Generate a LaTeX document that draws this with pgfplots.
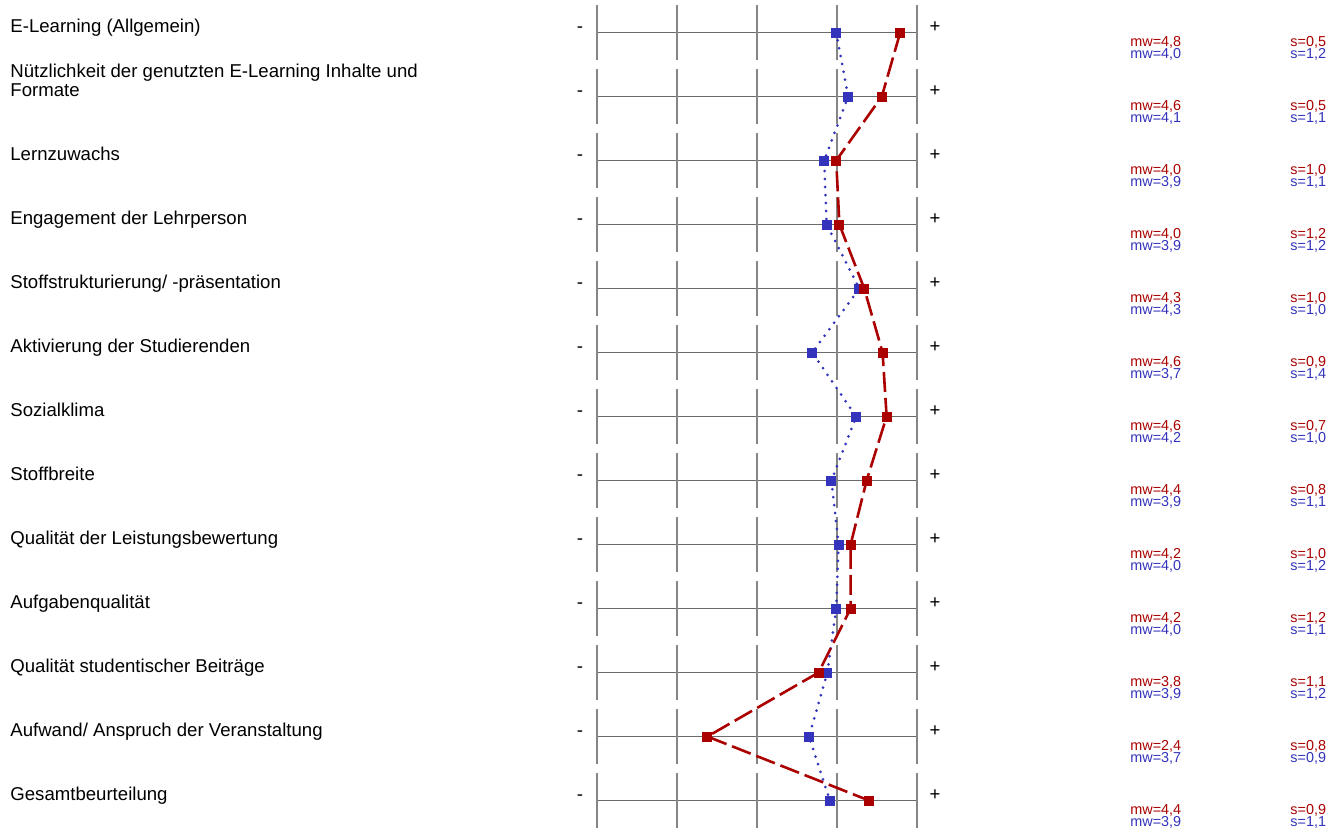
\documentclass[border=0pt]{standalone}
\usepackage{pgfplots}
\usepackage{pgfplotstable}
\pgfplotsset{compat=1.18}
\usepackage{fontspec}
\setmainfont{Liberation Sans}
\definecolor{cred}{HTML}{AA0000}
\definecolor{cblue}{HTML}{3333BB}
\definecolor{gridh}{HTML}{6A6A6A}
\definecolor{gridv}{HTML}{858585}

\pgfplotstableread{
row red blue
1 4.79 3.99
2 4.56 4.14
3 3.99 3.84
4 4.03 3.87
5 4.34 4.28
6 4.57 3.69
7 4.62 4.24
8 4.37 3.93
9 4.17 4.02
10 4.17 3.99
11 3.77 3.88
12 2.38 3.65
13 4.40 3.91
}\profile

\newcommand{\lab}[2]{\node[anchor=base west,inner sep=0pt,font=\fontsize{9.3}{9.5}\selectfont,align=left] at (axis cs:-6.3375,#1) {#2};}
\newcommand{\stats}[5]{%
 \node[anchor=base west,inner sep=0pt,font=\fontsize{7.2}{7.2}\selectfont,text=cred] at ([yshift=-6.75pt]axis cs:7.6625,#1) {mw=#2};
 \node[anchor=base west,inner sep=0pt,font=\fontsize{7.2}{7.2}\selectfont,text=cblue] at ([yshift=-12.9pt]axis cs:7.6625,#1) {mw=#3};
 \node[anchor=base west,inner sep=0pt,font=\fontsize{7.2}{7.2}\selectfont,text=cred] at ([yshift=-6.75pt]axis cs:9.6625,#1) {s=#4};
 \node[anchor=base west,inner sep=0pt,font=\fontsize{7.2}{7.2}\selectfont,text=cblue] at ([yshift=-12.9pt]axis cs:9.6625,#1) {s=#5};}

\begin{document}
\begin{tikzpicture}
\begin{axis}[
  scale only axis,
  width=669pt, height=416pt,
  xmin=-6.4625, xmax=10.2625,
  ymin=0.4921875, ymax=13.4921875,
  y dir=reverse,
  hide axis,
  clip=false,
]
\path (rel axis cs:0,0) rectangle (rel axis cs:1,1);
\pgfplotsinvokeforeach{1,...,13}{
  \draw[gridh, line width=0.9pt] (axis cs:1,#1) -- (axis cs:5,#1);
  \draw[gridv, line width=0.9pt]
    ([yshift=-13.75pt]axis cs:1,#1) -- ([yshift=13.75pt]axis cs:1,#1)
    ([yshift=-13.75pt]axis cs:2,#1) -- ([yshift=13.75pt]axis cs:2,#1)
    ([yshift=-13.75pt]axis cs:3,#1) -- ([yshift=13.75pt]axis cs:3,#1)
    ([yshift=-13.75pt]axis cs:4,#1) -- ([yshift=13.75pt]axis cs:4,#1)
    ([yshift=-13.75pt]axis cs:5,#1) -- ([yshift=13.75pt]axis cs:5,#1);
  \node[anchor=base,inner sep=0pt,font=\fontsize{9.3}{9.5}\selectfont] at (axis cs:0.7875,#1) {-};
  \node[anchor=base,inner sep=0pt,font=\fontsize{9.3}{9.5}\selectfont] at (axis cs:5.225,#1) {+};
}
\addplot[cblue, line width=1.5pt, line cap=round, dash pattern=on 0pt off 4pt,
  mark=square*, mark size=2.25pt, mark options={solid, draw=cblue, fill=cblue, line width=0pt}]
  table[x=blue, y=row] {\profile};
\addplot[cred, line width=1.3pt, dash pattern=on 10pt off 3pt,
  mark=square*, mark size=2.25pt, mark options={solid, draw=cred, fill=cred, line width=0pt}]
  table[x=red, y=row] {\profile};

\lab{1}{E-Learning (Allgemein)}
\lab{2}{Nützlichkeit der genutzten E-Learning Inhalte und\\Formate}
\lab{3}{Lernzuwachs}
\lab{4}{Engagement der Lehrperson}
\lab{5}{Stoffstrukturierung/ -präsentation}
\lab{6}{Aktivierung der Studierenden}
\lab{7}{Sozialklima}
\lab{8}{Stoffbreite}
\lab{9}{Qualität der Leistungsbewertung}
\lab{10}{Aufgabenqualität}
\lab{11}{Qualität studentischer Beiträge}
\lab{12}{Aufwand/ Anspruch der Veranstaltung}
\lab{13}{Gesamtbeurteilung}

\stats{1}{4,8}{4,0}{0,5}{1,2}
\stats{2}{4,6}{4,1}{0,5}{1,1}
\stats{3}{4,0}{3,9}{1,0}{1,1}
\stats{4}{4,0}{3,9}{1,2}{1,2}
\stats{5}{4,3}{4,3}{1,0}{1,0}
\stats{6}{4,6}{3,7}{0,9}{1,4}
\stats{7}{4,6}{4,2}{0,7}{1,0}
\stats{8}{4,4}{3,9}{0,8}{1,1}
\stats{9}{4,2}{4,0}{1,0}{1,2}
\stats{10}{4,2}{4,0}{1,2}{1,1}
\stats{11}{3,8}{3,9}{1,1}{1,2}
\stats{12}{2,4}{3,7}{0,8}{0,9}
\stats{13}{4,4}{3,9}{0,9}{1,1}
\end{axis}
\end{tikzpicture}
\end{document}
